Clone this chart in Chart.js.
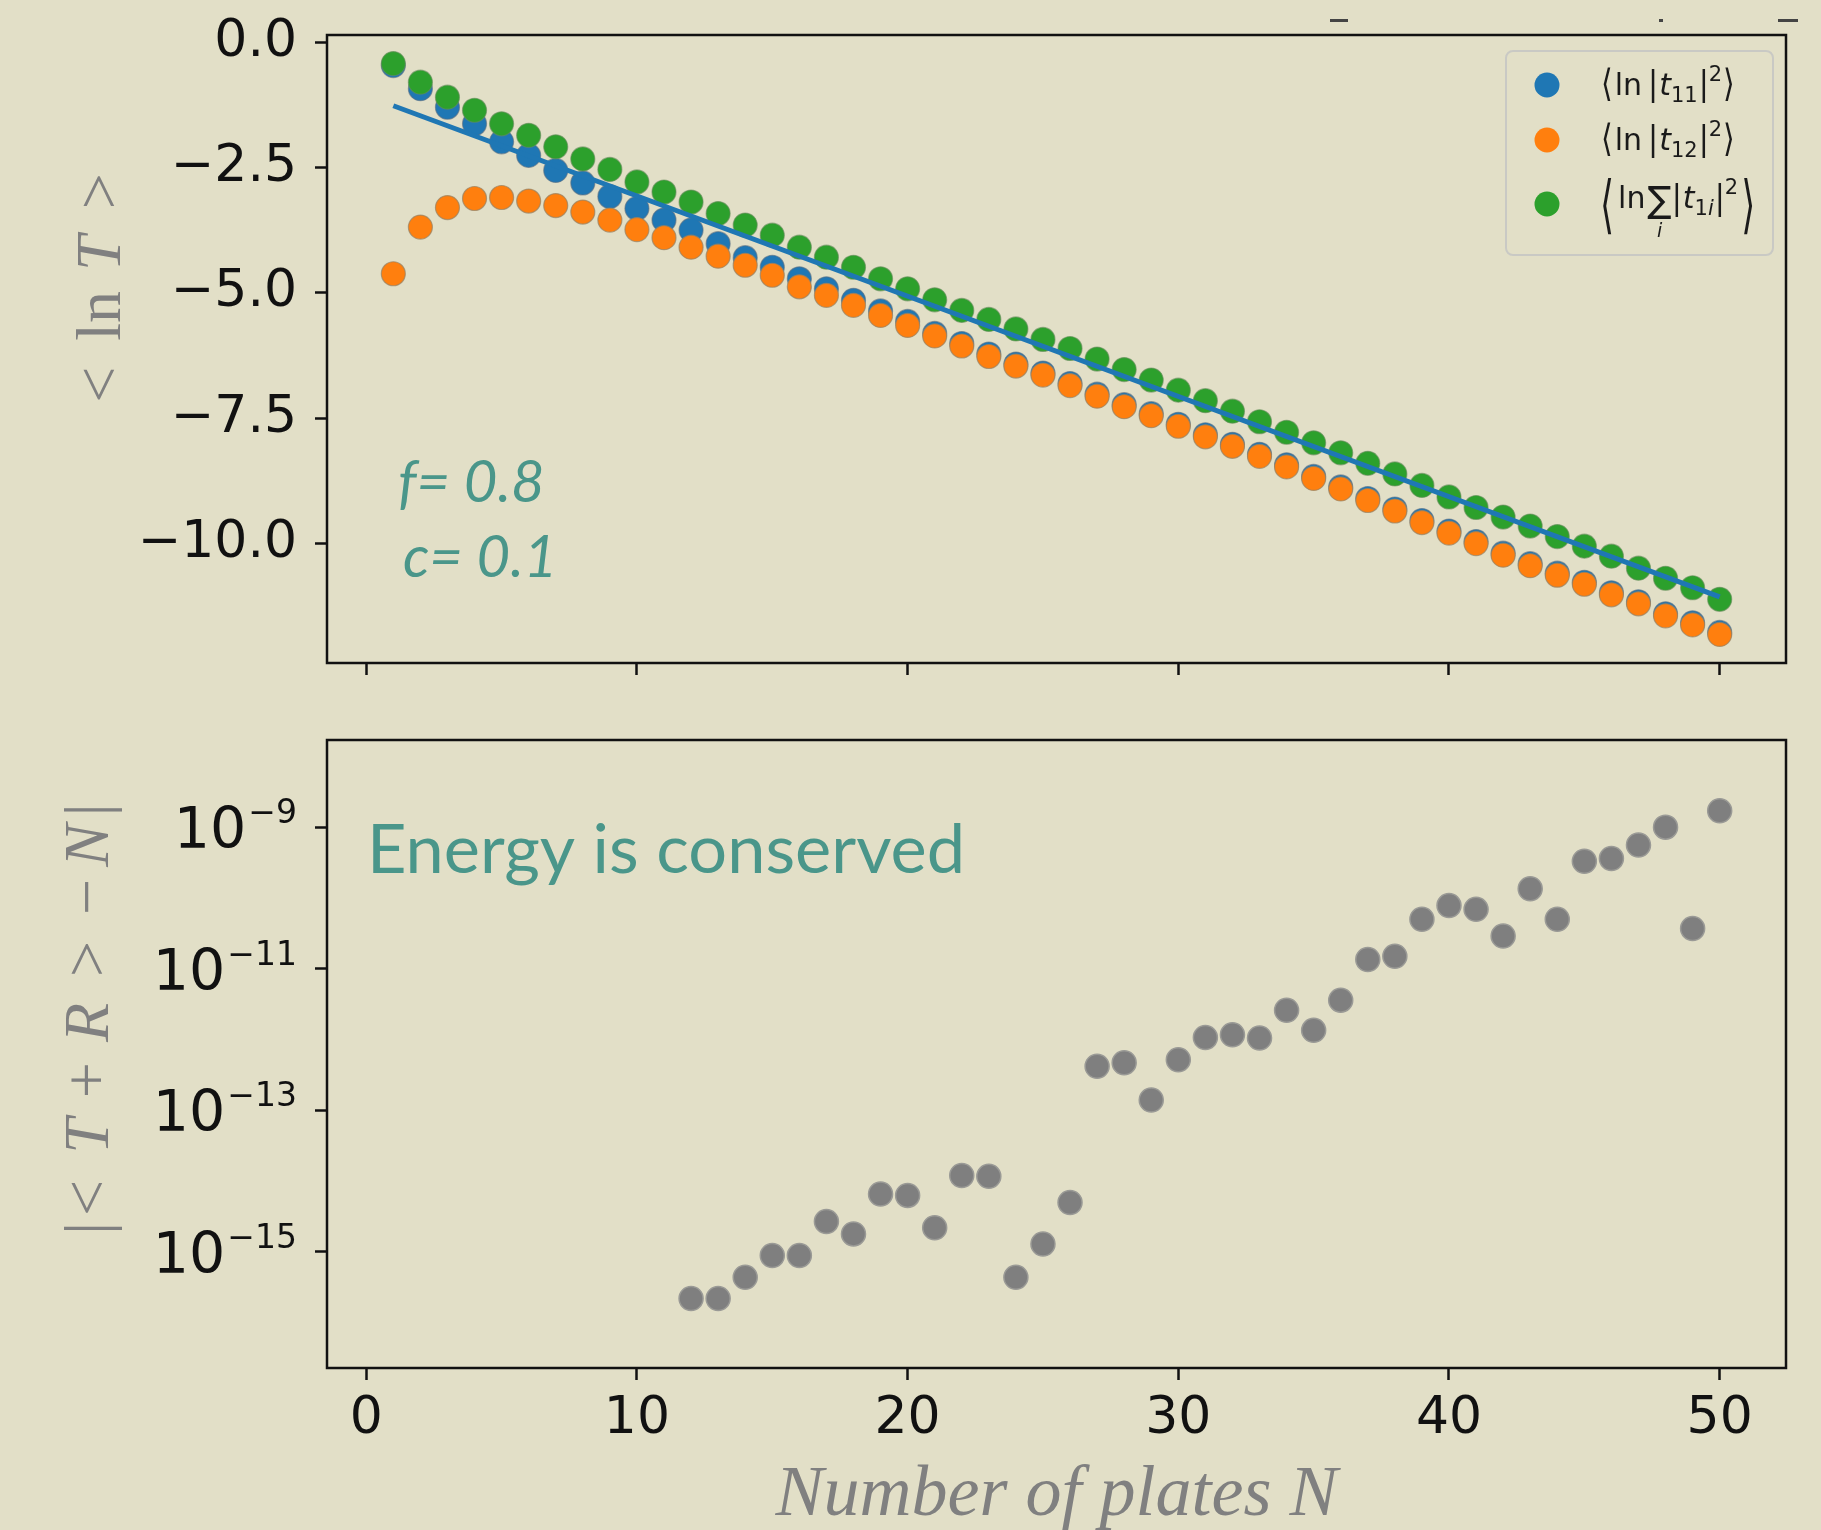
<!DOCTYPE html>
<html>
<head>
<meta charset="utf-8">
<script src="https://cdn.jsdelivr.net/npm/chart.js@4.4.0/dist/chart.umd.min.js"></script>
<style>
  html, body { margin: 0; padding: 0; background: #e2dfc7; }
  #wrap { position: relative; width: 1821px; height: 1530px; background: #e2dfc7; overflow: hidden; }
  #wrap canvas { position: absolute; left: 0; }
  #topChart { top: 0; }
  #bottomChart { top: 700px; }
</style>
</head>
<body>
<div id="wrap">
  <canvas id="topChart" width="1821" height="700"></canvas>
  <canvas id="bottomChart" width="1821" height="830"></canvas>
</div>
<script>
"use strict";

// number of plates N
var plates = [1, 2, 3, 4, 5, 6, 7, 8, 9, 10, 11, 12, 13, 14, 15, 16, 17, 18, 19, 20,
    21, 22, 23, 24, 25, 26, 27, 28, 29, 30, 31, 32, 33, 34, 35, 36, 37, 38, 39, 40,
    41, 42, 43, 44, 45, 46, 47, 48, 49, 50];

// <ln |t11|^2>
var lnT11 = [-0.47, -0.93, -1.30, -1.63, -1.99, -2.26, -2.56, -2.81, -3.08, -3.32,
    -3.55, -3.75, -4.02, -4.30, -4.49, -4.72, -4.92, -5.15, -5.36, -5.57,
    -5.81, -6.01, -6.22, -6.42, -6.60, -6.81, -7.02, -7.23, -7.41, -7.62,
    -7.83, -8.02, -8.22, -8.43, -8.66, -8.87, -9.10, -9.31, -9.54, -9.75,
    -9.96, -10.19, -10.40, -10.59, -10.77, -10.98, -11.16, -11.40, -11.58, -11.77];

// <ln |t12|^2>
var lnT12 = [-4.62, -3.69, -3.30, -3.12, -3.10, -3.17, -3.26, -3.39, -3.55, -3.74,
    -3.90, -4.09, -4.27, -4.45, -4.65, -4.88, -5.05, -5.25, -5.45, -5.65,
    -5.86, -6.06, -6.27, -6.46, -6.64, -6.85, -7.06, -7.27, -7.45, -7.66,
    -7.87, -8.06, -8.26, -8.47, -8.70, -8.91, -9.14, -9.35, -9.58, -9.79,
    -10.00, -10.23, -10.44, -10.63, -10.81, -11.02, -11.20, -11.44, -11.62, -11.81];

// <ln sum_i |t1i|^2>
var lnTsum = [-0.43, -0.80, -1.10, -1.36, -1.63, -1.86, -2.09, -2.33, -2.54, -2.79,
    -2.99, -3.19, -3.42, -3.65, -3.85, -4.09, -4.29, -4.49, -4.72, -4.92,
    -5.14, -5.35, -5.53, -5.72, -5.93, -6.11, -6.32, -6.53, -6.74, -6.94,
    -7.15, -7.36, -7.57, -7.78, -7.99, -8.19, -8.40, -8.61, -8.84, -9.07,
    -9.28, -9.47, -9.65, -9.86, -10.05, -10.25, -10.49, -10.69, -10.88, -11.11];

// straight fit line, end points
var fitN = [1, 50];
var fitLnT = [-1.27, -11.06];

// |<T+R> - N|, only where it is non zero
var errPlates = [12, 13, 14, 15, 16, 17, 18, 19, 20, 21, 22, 23, 24, 25, 26, 27, 28, 29, 30,
    31, 32, 33, 34, 35, 36, 37, 38, 39, 40, 41, 42, 43, 44, 45, 46, 47, 48, 49, 50];
var errValues = [2.2e-16, 2.2e-16, 4.4e-16, 8.9e-16, 8.9e-16, 2.7e-15, 1.8e-15, 6.6e-15, 6.3e-15, 2.2e-15,
    1.2e-14, 1.17e-14, 4.4e-16, 1.3e-15, 5.0e-15, 4.2e-13, 4.7e-13, 1.4e-13, 5.2e-13,
    1.07e-12, 1.17e-12, 1.05e-12, 2.6e-12, 1.35e-12, 3.6e-12, 1.35e-11, 1.5e-11, 5.0e-11, 7.8e-11,
    6.9e-11, 2.9e-11, 1.35e-10, 5.0e-11, 3.3e-10, 3.6e-10, 5.6e-10, 1.0e-9, 3.7e-11, 1.7e-9];

var xTicks = [0, 10, 20, 30, 40, 50];
var topYTicks = [0, -2.5, -5, -7.5, -10];
var bottomYTicks = [1e-9, 1e-11, 1e-13, 1e-15];

var BG = "#e2dfc7";
var TEAL = "#4a968a";
var GREY = "#808080";
var INK = "#111111";

Chart.defaults.font.family = '"DejaVu Sans"';

function toPoints(xs, ys) {
    return xs.map(function (x, i) {
        return { x: x, y: ys[i] };
    });
}

function fixedTicks(values) {
    return function (scale) {
        scale.ticks = values.map(function (v) {
            return { value: v };
        });
    };
}

function exponentOf(v) {
    return Math.round(Math.log10(v));
}

function tickGrid() {
    return {
        display: true,
        drawOnChartArea: false,
        drawTicks: true,
        tickLength: 12,
        tickWidth: 2.5,
        tickColor: INK
    };
}

function drawFrame(chart) {
    var a = chart.chartArea, ctx = chart.ctx;
    ctx.save();
    ctx.strokeStyle = INK;
    ctx.lineWidth = 2.5;
    ctx.strokeRect(a.left, a.top, a.right - a.left, a.bottom - a.top);
    ctx.restore();
}

// vertical axis title made of upright / italic pieces
function drawSideTitle(ctx, runs, baseX, centerY, size) {
    ctx.save();
    ctx.translate(baseX, centerY);
    ctx.rotate(-Math.PI / 2);
    ctx.fillStyle = GREY;
    ctx.textBaseline = "alphabetic";
    var total = 0;
    runs.forEach(function (r) {
        ctx.font = (r.it ? "italic " : "") + size + 'px "Liberation Serif"';
        r.w = ctx.measureText(r.t).width;
        total += r.w + (r.gap || 0);
    });
    var x = -total / 2;
    runs.forEach(function (r) {
        ctx.font = (r.it ? "italic " : "") + size + 'px "Liberation Serif"';
        ctx.fillText(r.t, x, 0);
        x += r.w + (r.gap || 0);
    });
    ctx.restore();
}

function put(ctx, t, x, y, size, style) {
    ctx.font = (style || "") + size + 'px "DejaVu Sans"';
    ctx.fillText(t, x, y);
    return x + ctx.measureText(t).width;
}

function bracket(ctx, t, x, cy, size, sx, sy) {
    ctx.save();
    ctx.font = size + 'px "DejaVu Sans"';
    var w = ctx.measureText(t).width;
    ctx.translate(x, cy);
    ctx.scale(sx, sy);
    ctx.textBaseline = "middle";
    ctx.fillText(t, 0, 0);
    ctx.restore();
    return x + w * sx;
}

function drawLegend(chart) {
    var ctx = chart.ctx;
    var ds = chart.data.datasets;
    ctx.save();
    ctx.beginPath();
    ctx.roundRect(1506, 51, 267, 204, 7);
    ctx.fillStyle = BG;
    ctx.fill();
    ctx.strokeStyle = "#c9c9c4";
    ctx.lineWidth = 2;
    ctx.stroke();

    var rows = [85, 140, 204];
    for (var i = 0; i < 3; i++) {
        ctx.beginPath();
        ctx.arc(1547, rows[i], 12.5, 0, Math.PI * 2);
        ctx.fillStyle = ds[i].backgroundColor;
        ctx.fill();
    }

    ctx.fillStyle = "#1a1a1a";
    ctx.textBaseline = "alphabetic";
    var subs = ["11", "12"];
    for (var k = 0; k < 2; k++) {
        var y = rows[k] + 10;
        var x = 1601;
        x = bracket(ctx, "\u27E8", x, rows[k] + 1, 30, 1, 1.25) + 2;
        x = put(ctx, "ln", x, y, 30) + 6;
        x = bracket(ctx, "|", x, rows[k] + 1, 30, 1, 1.15) + 1;
        x = put(ctx, "t", x, y, 30, "italic ");
        x = put(ctx, subs[k], x, y + 7, 21) + 1;
        x = bracket(ctx, "|", x, rows[k] + 1, 30, 1, 1.15);
        x = put(ctx, "2", x, y - 14, 21) + 1;
        bracket(ctx, "\u27E9", x, rows[k] + 1, 30, 1, 1.25);
    }

    // third row, big brackets and a sum sign
    var y3 = 208;
    var x3 = bracket(ctx, "\u27E8", 1600, y3 + 2, 30, 1.2, 2.1) + 4;
    x3 = put(ctx, "ln", x3, y3, 30) + 2;
    var sx = x3;
    x3 = put(ctx, "\u2211", x3, y3 + 4, 36);
    ctx.font = 'italic 19px "DejaVu Sans"';
    var iw = ctx.measureText("i").width;
    ctx.fillText("i", (sx + x3) / 2 - iw / 2, y3 + 29);
    x3 = bracket(ctx, "|", x3, y3 - 8, 30, 1, 1.15) + 1;
    x3 = put(ctx, "t", x3, y3, 30, "italic ");
    x3 = put(ctx, "1", x3, y3 + 7, 21);
    x3 = put(ctx, "i", x3, y3 + 7, 21, "italic ") + 1;
    x3 = bracket(ctx, "|", x3, y3 - 8, 30, 1, 1.15);
    x3 = put(ctx, "2", x3, y3 - 14, 21) + 3;
    bracket(ctx, "\u27E9", x3, y3 + 2, 30, 1.2, 2.1);
    ctx.restore();
}

var topDecor = {
    id: "topDecor",
    afterDraw: function (chart) {
        var ctx = chart.ctx;
        drawFrame(chart);
        drawLegend(chart);

        ctx.save();
        ctx.fillStyle = TEAL;
        ctx.textBaseline = "alphabetic";
        ctx.font = "italic 58px Lato";
        ctx.fillText("f= 0.8", 398, 502);
        ctx.fillText("c= 0.1", 403, 577);

        // remains of a cut off title above the frame
        ctx.fillStyle = "#444";
        ctx.fillRect(1330, 19, 18, 3);
        ctx.fillRect(1659, 19, 4, 3);
        ctx.fillRect(1778, 19, 20, 3);
        ctx.restore();

        drawSideTitle(ctx, [
            { t: "<", gap: 26 },
            { t: "ln", gap: 20 },
            { t: "T", it: true, gap: 26 },
            { t: ">" }
        ], 120, 288, 64);
    }
};

// log tick labels as 10 with a raised exponent
function drawPowerLabels(chart) {
    var ctx = chart.ctx;
    var scale = chart.scales.y;
    var right = scale.right - 12 - 18;
    ctx.save();
    ctx.fillStyle = INK;
    ctx.textBaseline = "alphabetic";
    bottomYTicks.forEach(function (v) {
        var py = scale.getPixelForValue(v);
        var sup = "\u2212" + String(-exponentOf(v));
        ctx.font = '33px "DejaVu Sans"';
        var supW = ctx.measureText(sup).width;
        ctx.font = '57px "DejaVu Sans"';
        var baseW = ctx.measureText("10").width;
        var x0 = right - supW - baseW - 2;
        ctx.fillText("10", x0, py + 21);
        ctx.font = '33px "DejaVu Sans"';
        ctx.fillText(sup, x0 + baseW + 2, py - 4);
    });
    ctx.restore();
}

var bottomDecor = {
    id: "bottomDecor",
    afterDraw: function (chart) {
        var ctx = chart.ctx;
        drawFrame(chart);
        drawPowerLabels(chart);
        ctx.save();
        ctx.fillStyle = TEAL;
        ctx.textBaseline = "alphabetic";
        ctx.font = "68.5px Lato";
        ctx.fillText("Energy is conserved", 367, 173);
        ctx.restore();

        drawSideTitle(ctx, [
            { t: "|", gap: 6 },
            { t: "<", gap: 26 },
            { t: "T", it: true, gap: 20 },
            { t: "+", gap: 20 },
            { t: "R", it: true, gap: 26 },
            { t: ">", gap: 26 },
            { t: "\u2212", gap: 12 },
            { t: "N", it: true, gap: 8 },
            { t: "|" }
        ], 108, 319, 64);
    }
};

var dotStyle = { pointRadius: 12, pointBorderWidth: 1.2, pointHoverRadius: 12 };

new Chart(document.getElementById("topChart"), {
    type: "scatter",
    data: {
        datasets: [
            Object.assign({ label: "t11", data: toPoints(plates, lnT11), backgroundColor: "#1f77b4",
                borderColor: "rgba(90,110,130,0.6)", order: 4 }, dotStyle),
            Object.assign({ label: "t12", data: toPoints(plates, lnT12), backgroundColor: "#ff7f0e",
                borderColor: "rgba(150,130,100,0.7)", order: 3 }, dotStyle),
            Object.assign({ label: "sum", data: toPoints(plates, lnTsum), backgroundColor: "#2ca02c",
                borderColor: "rgba(100,140,90,0.6)", order: 2 }, dotStyle),
            { label: "fit", data: toPoints(fitN, fitLnT), showLine: true, pointRadius: 0,
                borderColor: "#1f77b4", borderWidth: 5, order: 1 }
        ]
    },
    options: {
        responsive: false,
        animation: false,
        events: [],
        layout: { padding: { top: 35, right: 35, left: 0, bottom: 0 } },
        plugins: { legend: { display: false }, tooltip: { enabled: false } },
        scales: {
            x: {
                type: "linear",
                min: -1.45,
                max: 52.45,
                afterBuildTicks: fixedTicks(xTicks),
                afterFit: function (s) { s.height = 37; s.paddingLeft = 0; s.paddingRight = 0; },
                ticks: { display: false },
                grid: tickGrid(),
                border: { display: false }
            },
            y: {
                min: -12.38,
                max: 0.14,
                afterBuildTicks: fixedTicks(topYTicks),
                afterFit: function (s) { s.width = 327; s.paddingTop = 0; s.paddingBottom = 0; },
                ticks: {
                    autoSkip: false,
                    padding: 18,
                    color: INK,
                    font: { size: 52 },
                    callback: function (v) { return v.toFixed(1).replace("-", "\u2212"); }
                },
                grid: tickGrid(),
                border: { display: false }
            }
        }
    },
    plugins: [topDecor]
});

new Chart(document.getElementById("bottomChart"), {
    type: "scatter",
    data: {
        datasets: [{
            label: "error",
            data: toPoints(errPlates, errValues),
            backgroundColor: "#7f7f7f",
            borderColor: "#9a9a96",
            pointRadius: 12,
            pointBorderWidth: 1.5,
            pointHoverRadius: 12
        }]
    },
    options: {
        responsive: false,
        animation: false,
        events: [],
        layout: { padding: { top: 40, right: 35, left: 0, bottom: 0 } },
        plugins: { legend: { display: false }, tooltip: { enabled: false } },
        scales: {
            x: {
                type: "linear",
                min: -1.45,
                max: 52.45,
                afterBuildTicks: fixedTicks(xTicks),
                afterFit: function (s) { s.height = 162; s.paddingLeft = 0; s.paddingRight = 0; },
                ticks: {
                    autoSkip: false,
                    maxRotation: 0,
                    padding: 8,
                    color: INK,
                    font: { size: 52 },
                    callback: function (v) { return String(v); }
                },
                grid: tickGrid(),
                border: { display: false },
                title: {
                    display: true,
                    text: "Number of plates N",
                    color: GREY,
                    padding: { top: 0, bottom: 0 },
                    font: { family: '"Liberation Serif"', style: "italic", size: 72, lineHeight: 0.95 }
                }
            },
            y: {
                type: "logarithmic",
                min: 2.3e-17,
                max: 1.7e-8,
                afterBuildTicks: fixedTicks(bottomYTicks),
                afterFit: function (s) { s.width = 327; s.paddingTop = 0; s.paddingBottom = 0; },
                ticks: {
                    autoSkip: false,
                    padding: 18,
                    color: "rgba(0,0,0,0)",
                    font: { size: 52 },
                    callback: function (v) { return "10^" + exponentOf(v); }
                },
                grid: tickGrid(),
                border: { display: false }
            }
        }
    },
    plugins: [bottomDecor]
});
</script>
</body>
</html>
